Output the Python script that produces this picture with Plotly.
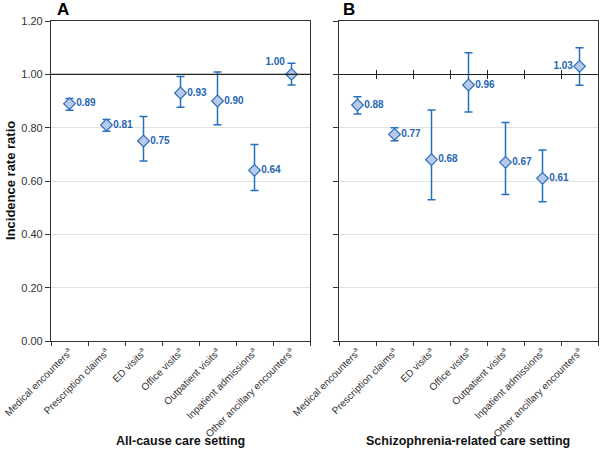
import plotly.graph_objects as go

categories = ["Medical encounters<sup>a</sup>", "Prescription claims<sup>a</sup>", "ED visits<sup>a</sup>",
              "Office visits<sup>a</sup>", "Outpatient visits<sup>a</sup>", "Inpatient admissions<sup>a</sup>",
              "Other ancillary encounters<sup>a</sup>"]

irr_all = [0.89, 0.81, 0.75, 0.93, 0.90, 0.64, 1.00]
lo_all = [0.865, 0.787, 0.675, 0.877, 0.811, 0.564, 0.960]
hi_all = [0.909, 0.831, 0.842, 0.992, 1.009, 0.737, 1.042]
lbl_all = ["0.89", "0.81", "0.75", "0.93", "0.90", "0.64", "1.00"]

irr_sz = [0.885, 0.775, 0.68, 0.96, 0.67, 0.61, 1.03]
lo_sz = [0.851, 0.751, 0.530, 0.859, 0.549, 0.522, 0.959]
hi_sz = [0.916, 0.800, 0.866, 1.081, 0.819, 0.716, 1.100]
lbl_sz = ["0.88", "0.77", "0.68", "0.96", "0.67", "0.61", "1.03"]

y_ticks = [0.0, 0.2, 0.4, 0.6, 0.8, 1.0, 1.2]

BLUE = "#2770bd"
TXT = "#1f66b3"
FILL = "#b9c9ea"
FONT = "Liberation Sans, Arial, sans-serif"
W, H = 600, 450

xd1 = [51 / W, 310 / W]
xd2 = [339 / W, 598 / W]
yd = [1 - 341 / H, 1 - 21 / H]
y_one = yd[0] + (1.0 / 1.2) * (yd[1] - yd[0])

fig = go.Figure()


def add_series(vals, lo, hi, labels, xa, ya, last_pos):
    pos = ["middle right"] * (len(vals) - 1) + [last_pos]
    fig.add_trace(go.Scatter(
        x=categories, y=vals, xaxis=xa, yaxis=ya, mode="markers+text",
        marker=dict(symbol="diamond", size=9, color=FILL, line=dict(color=BLUE, width=1.2)),
        error_y=dict(type="data", symmetric=False,
                     array=[h - v for h, v in zip(hi, vals)],
                     arrayminus=[v - l for v, l in zip(vals, lo)],
                     color=BLUE, thickness=1.5, width=4),
        text=labels, textposition=pos,
        textfont=dict(family=FONT, size=10, color=TXT, weight="bold"),
        showlegend=False, cliponaxis=False,
    ))


add_series(irr_all, lo_all, hi_all, lbl_all, "x", "y", "top left")
add_series(irr_sz, lo_sz, hi_sz, lbl_sz, "x2", "y2", "middle left")

xcommon = dict(type="category", categoryorder="array", categoryarray=categories,
               range=[-0.5, 6.5], tickson="boundaries", ticks="outside", ticklen=4,
               tickcolor="#333", showline=True, linecolor="#333", linewidth=1.2, mirror=True,
               showgrid=False, zeroline=False, tickangle=-45, automargin=False,
               tickfont=dict(family=FONT, size=10, color="#333"))
ycommon = dict(range=[0, 1.2], tickvals=y_ticks, tickformat=".2f", ticks="outside", ticklen=5,
               tickcolor="#333", showline=True, linecolor="#333", linewidth=1.2, mirror=True,
               showgrid=True, gridcolor="#e2e2e2", gridwidth=1, zeroline=False, automargin=False,
               tickfont=dict(family=FONT, size=11, color="#333"), domain=yd)

fig.update_layout(
    width=W, height=H, margin=dict(l=0, r=0, t=0, b=0, autoexpand=False),
    paper_bgcolor="white", plot_bgcolor="white",
    xaxis=dict(xcommon, domain=xd1, anchor="y"),
    xaxis2=dict(xcommon, domain=xd2, anchor="y2"),
    yaxis=dict(ycommon, anchor="x"),
    yaxis2=dict(ycommon, anchor="x2", showticklabels=False),
    xaxis3=dict(overlaying="x2", domain=xd2, anchor="free", position=y_one, range=[0, 7],
                tickvals=[1, 2, 3, 4, 5, 6], ticks="outside", ticklen=4, tickcolor="#222",
                showticklabels=False, showline=True, linecolor="#222", linewidth=1.2,
                showgrid=False, zeroline=False, automargin=False),
    xaxis4=dict(overlaying="x2", domain=xd2, anchor="free", position=y_one, range=[0, 7],
                tickvals=[1, 2, 3, 4, 5, 6], ticks="inside", ticklen=4, tickcolor="#222",
                showticklabels=False, showline=False, showgrid=False, zeroline=False,
                automargin=False),
)

# invisible traces to activate overlay axes
fig.add_trace(go.Scatter(x=[None], y=[None], xaxis="x3", yaxis="y2", showlegend=False))
fig.add_trace(go.Scatter(x=[None], y=[None], xaxis="x4", yaxis="y2", showlegend=False))

fig.add_shape(type="line", xref="x domain", yref="y", x0=0, x1=1, y0=1.0, y1=1.0,
              line=dict(color="#222", width=1.2))

ann_font = dict(family=FONT, size=12.5, color="#111", weight="bold")
fig.add_annotation(text="All-cause care setting", xref="paper", yref="paper", xanchor="center",
                   yanchor="middle",
                   x=(xd1[0] + xd1[1]) / 2, y=1 - 441 / H, showarrow=False, font=ann_font)
fig.add_annotation(text="Schizophrenia-related care setting", xref="paper", yref="paper",
                   xanchor="center", yanchor="middle",
                   x=(xd2[0] + xd2[1]) / 2, y=1 - 441 / H, showarrow=False, font=ann_font)
fig.add_annotation(text="Incidence rate ratio", xref="paper", yref="paper", textangle=-90,
                   xanchor="center", yanchor="middle",
                   x=10 / W, y=(yd[0] + yd[1]) / 2, showarrow=False,
                   font=dict(family=FONT, size=13, color="#111", weight="bold"))
fig.add_annotation(text="A", xref="paper", yref="paper", x=55 / W, y=1 - 9 / H, xanchor="left",
                   yanchor="middle",
                   showarrow=False, font=dict(family=FONT, size=17, color="#000", weight="bold"))
fig.add_annotation(text="B", xref="paper", yref="paper", x=341 / W, y=1 - 9 / H, xanchor="left",
                   yanchor="middle",
                   showarrow=False, font=dict(family=FONT, size=17, color="#000", weight="bold"))

fig.write_html("out.html", config={"displayModeBar": False},
               post_script="document.body.style.margin='0';document.body.style.overflow='hidden';")
